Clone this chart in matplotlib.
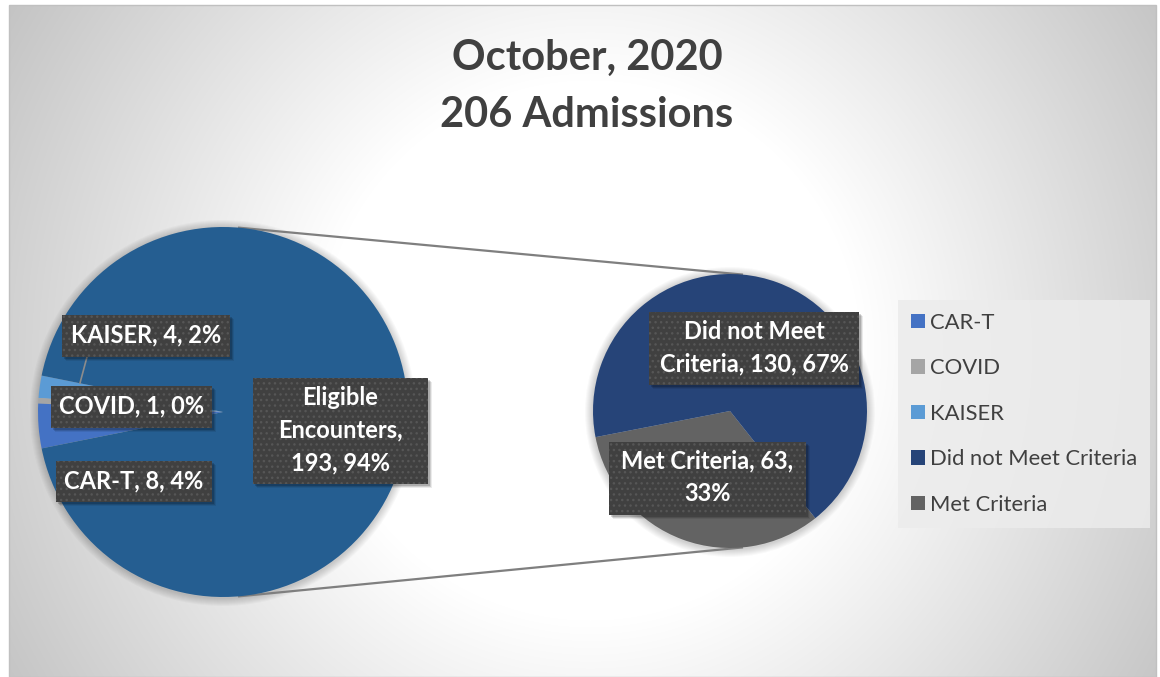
import numpy as np
import matplotlib
matplotlib.use('Agg')
import matplotlib.pyplot as plt
from matplotlib.patches import Rectangle, Circle

# data
first_labels = ['KAISER', 'COVID', 'CAR-T', 'Eligible Encounters']
first_values = [4, 1, 8, 193]
second_labels = ['Met Criteria', 'Did not Meet Criteria']
second_values = [63, 130]
legend_order = ['CAR-T', 'COVID', 'KAISER', 'Did not Meet Criteria', 'Met Criteria']
title_lines = ['October, 2020', '206 Admissions']

colors = {'Eligible Encounters': '#255e91', 'CAR-T': '#4472c4', 'COVID': '#a5a5a5',
          'KAISER': '#5b9bd5', 'Did not Meet Criteria': '#264478', 'Met Criteria': '#636363'}

W, H = 1160, 677
plt.rcParams['font.family'] = ['Lato', 'DejaVu Sans']

fig = plt.figure(figsize=(W / 100, H / 100), dpi=100)
ax = fig.add_axes([0, 0, 1, 1])

# background: radial gradient inside a thin frame
yy, xx = np.mgrid[0:H, 0:W]
r = np.hypot(xx - 590, yy - 350)
t = np.clip((r - 270) / 420, 0, 1)
g = 1 - t * (1 - 0.76)
img = np.dstack([g, g, g])
img[:5, :] = 1
img[:, :9] = 1
img[:, 1156:] = 1
ax.imshow(img, extent=(0, W, 0, H), origin='upper', zorder=0)
ax.add_patch(Rectangle((9, 0), 1147, H - 5, fill=False, edgecolor='#c0c0c0', lw=1, zorder=1))

c1 = (223, H - 412)
r1 = 185
c2 = (730, H - 411)
r2 = 137

# soft glow around the pies
for c, rr in ((c1, r1), (c2, r2)):
    for k in range(1, 9):
        ax.add_patch(Circle((c[0], c[1] - 1), rr + k, facecolor='black', alpha=0.025,
                            edgecolor='none', zorder=2))

# left pie
small = sum(first_values[:3])
start1 = 180 - small / sum(first_values) * 180
w1, _ = ax.pie(first_values, colors=[colors[k] for k in first_labels], startangle=start1,
               counterclock=True, center=c1, radius=r1, frame=True,
               wedgeprops=dict(linewidth=0))
for w in w1:
    w.set_zorder(3)

# right pie
w2, _ = ax.pie(second_values, colors=[colors[k] for k in second_labels], startangle=191,
               counterclock=True, center=c2, radius=r2, frame=True,
               wedgeprops=dict(linewidth=0))
for w in w2:
    w.set_zorder(3)

# connector lines
for a in (85, -85):
    p1 = (c1[0] + r1 * np.cos(np.radians(a)), c1[1] + r1 * np.sin(np.radians(a)))
    p2 = (c2[0] + r2 * np.cos(np.radians(a)), c2[1] + r2 * np.sin(np.radians(a)))
    ax.plot([p1[0], p2[0]], [p1[1], p2[1]], color='#7f7f7f', lw=1.6, zorder=2.5)

# leader line for KAISER
ax.plot([87, 80], [H - 357, H - 383], color='#8c8c8c', lw=1.2, zorder=4)


def label(x0, x1, y0, y1, text):
    # dark data label box (pixel extents, y measured from top)
    for k, a in ((4, 0.08), (3, 0.12), (2, 0.16)):
        ax.add_patch(Rectangle((x0 + k, H - y1 - k), x1 - x0, y1 - y0, facecolor='black',
                               alpha=a, edgecolor='none', zorder=5))
    ax.add_patch(Rectangle((x0, H - y1), x1 - x0, y1 - y0, facecolor='#404040',
                           edgecolor='#565656', hatch='...', linewidth=0, zorder=5.5))
    ax.text((x0 + x1) / 2, H - (y0 + y1) / 2 + 1, text, color='white', fontsize=17,
            fontweight='bold', ha='center', va='center', linespacing=1.5, zorder=6)


tot1 = sum(first_values)
tot2 = sum(second_values)
pct1 = {k: round(v / tot1 * 100) for k, v in zip(first_labels, first_values)}
pct2 = {k: round(v / tot2 * 100) for k, v in zip(second_labels, second_values)}
label(62, 230, 315, 357, 'KAISER, %d, %d%%' % (first_values[0], pct1['KAISER']))
label(51, 212, 386, 428, 'COVID, %d, %d%%' % (first_values[1], pct1['COVID']))
label(56, 212, 461, 502, 'CAR-T, %d, %d%%' % (first_values[2], pct1['CAR-T']))
label(253, 428, 378, 484, 'Eligible\nEncounters,\n%d, %d%%' % (first_values[3], pct1['Eligible Encounters']))
label(649, 859, 312, 385, 'Did not Meet\nCriteria, %d, %d%%' % (second_values[1], pct2['Did not Meet Criteria']))
label(609, 806, 442, 515, 'Met Criteria, %d,\n%d%%' % (second_values[0], pct2['Met Criteria']))

# title
ax.text(587, H - 70, title_lines[0], color='#404040', fontsize=30, fontweight='bold',
        ha='center', va='baseline', zorder=6)
ax.text(587, H - 127, title_lines[1], color='#404040', fontsize=30, fontweight='bold',
        ha='center', va='baseline', zorder=6)

# legend
handles = [Rectangle((0, 0), 1, 1, facecolor=colors[k]) for k in legend_order]
leg = ax.legend(handles, legend_order, loc='upper left',
                bbox_to_anchor=(898 / W, 1 - 300 / H), bbox_transform=fig.transFigure,
                fontsize=15.8, labelspacing=1.16, handlelength=0.64, handleheight=0.64,
                handletextpad=0.22, borderpad=0.59, borderaxespad=0, frameon=True,
                fancybox=False)
leg.get_frame().set_facecolor('#ececec')
leg.get_frame().set_edgecolor('none')
leg.get_frame().set_alpha(0.85)
for txt in leg.get_texts():
    txt.set_color('#404040')
leg.set_zorder(6)

ax.set_xlim(0, W)
ax.set_ylim(0, H)
ax.set_aspect('auto')
ax.axis('off')
fig.savefig('out.png', dpi=100)
